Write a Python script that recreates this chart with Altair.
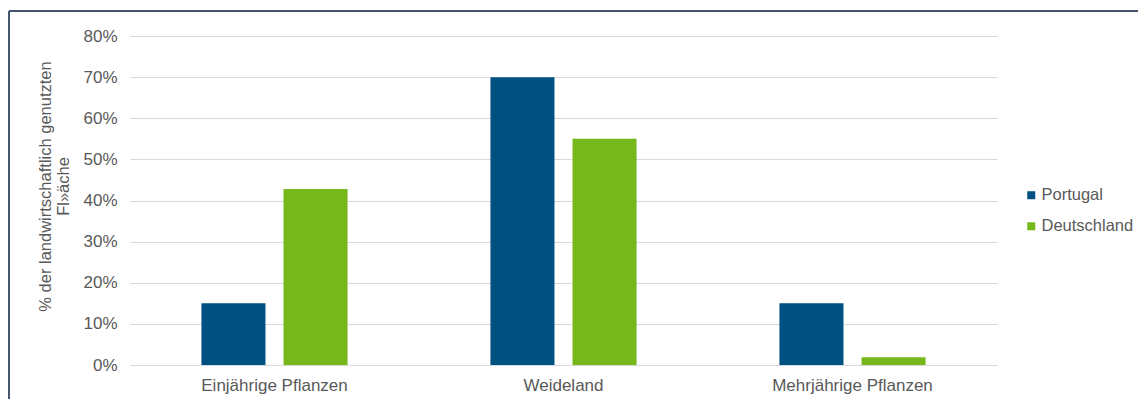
import altair as alt
import pandas as pd

categories = ["Einjährige Pflanzen", "Weideland", "Mehrjährige Pflanzen"]
series = ["Portugal", "Deutschland"]
portugal = [0.15, 0.70, 0.15]
deutschland = [0.428, 0.55, 0.019]
y_ticks = [0, 0.1, 0.2, 0.3, 0.4, 0.5, 0.6, 0.7, 0.8]
colors = ["#005082", "#76b71b"]

rows = []
for i, c in enumerate(categories):
    rows.append({"Kategorie": c, "Land": series[0], "Wert": portugal[i]})
    rows.append({"Kategorie": c, "Land": series[1], "Wert": deutschland[i]})
df = pd.DataFrame(rows)

W, H = 867, 329
TXT = "#595959"
FONT = "Liberation Sans"
FS = 17

bars = alt.Chart(df).mark_bar().encode(
    x=alt.X("Kategorie:N", sort=categories,
            scale=alt.Scale(paddingInner=0, paddingOuter=0),
            axis=alt.Axis(title=None, labelAngle=0, ticks=False, domain=True,
                          grid=False, domainColor="#d9d9d9", labelPadding=12,
                          labelFontSize=FS, labelColor=TXT, labelFont=FONT)),
    xOffset=alt.XOffset("Land:N", sort=series,
                        scale=alt.Scale(paddingInner=0.22, paddingOuter=0.87)),
    y=alt.Y("Wert:Q", scale=alt.Scale(domain=[0, 0.8]),
            axis=alt.Axis(values=y_ticks, format=".0%", ticks=False, domain=False,
                          grid=True, gridColor="#d9d9d9", gridWidth=1,
                          labelPadding=13, labelFontSize=FS, labelColor=TXT,
                          labelFont=FONT,
                          title=["% der landwirtschaftlich genutzten", "Fl»äche"],
                          titleFont=FONT, titleFontSize=16.5, titleFontWeight="normal",
                          titleColor=TXT, titleAngle=-90, titleAlign="center",
                          titleBaseline="middle", titleLineHeight=18,
                          titleX=-85, titleY=150)),
    color=alt.Color("Land:N", sort=series,
                    scale=alt.Scale(domain=series, range=colors),
                    legend=alt.Legend(title=None, orient="none", legendX=893,
                                      legendY=151, symbolType="square",
                                      symbolSize=64, symbolStrokeWidth=0,
                                      labelFontSize=16.5, labelColor=TXT,
                                      labelFont=FONT, labelOffset=2,
                                      rowPadding=14, padding=0)),
)

frame_data = alt.Data(values=[{"k": 0}])
top_line = alt.Chart(frame_data).mark_rule(color="#44546a", strokeWidth=2).encode(
    x=alt.value(-121), x2=alt.value(W + 200), y=alt.value(-25))
left_line = alt.Chart(frame_data).mark_rule(color="#44546a", strokeWidth=2).encode(
    x=alt.value(-121), y=alt.value(-25), y2=alt.value(H + 100))

chart = alt.layer(bars, top_line, left_line).properties(
    width=W, height=H,
    autosize=alt.AutoSizeParams(type="none"),
    padding={"left": 122, "top": 28, "right": 141, "bottom": 34},
).configure(background="white", view=alt.ViewConfig(stroke=None))

chart.save("out.html", embed_options={"renderer": "svg", "actions": False})
